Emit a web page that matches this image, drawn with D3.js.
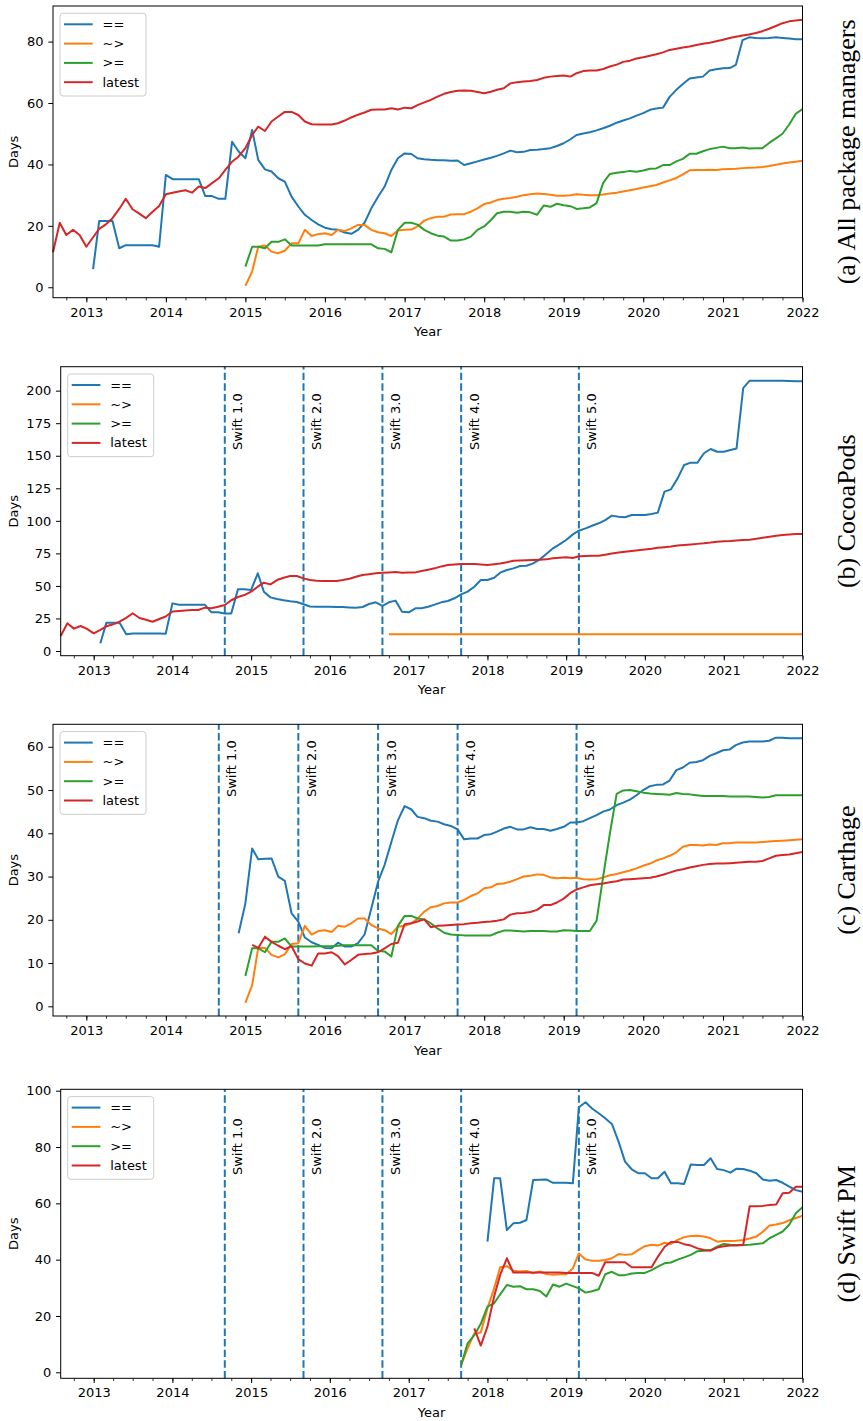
<!DOCTYPE html>
<html>
<head>
<meta charset="utf-8">
<script src="https://cdn.jsdelivr.net/npm/d3@7"></script>
<style>
  html, body { margin: 0; padding: 0; background: #fff; }
  svg { display: block; }
</style>
</head>
<body>
<svg id="chart" width="863" height="1421"></svg>
<script>
// Monthly samples, Aug 2012 .. Jan 2022
const firstMonth = '2012-08';
const lastMonth = '2022-01';

const seriesNames = ['==', '~>', '>=', 'latest'];
const seriesColors = ['#1f77b4', '#ff7f0e', '#2ca02c', '#d62728'];

// Swift releases (dashed markers)
const swiftReleases = ['2014-09', '2015-09', '2016-09', '2017-09', '2019-03'];
const swiftLabels = ['Swift 1.0', 'Swift 2.0', 'Swift 3.0', 'Swift 4.0', 'Swift 5.0'];

// (a) All package managers
const allTicks = [0, 20, 40, 60, 80];
const allEqStart = '2013-02';
const allEq = [5.9, 21.6, 21.6, 21.6,
  12.7, 13.7, 13.7, 13.7, 13.7, 13.7, 13.2, 36.6, 35.2, 35.2,
  35.2, 35.2, 35.2, 29.7, 29.7, 28.8, 28.8, 47.4, 44.2, 42,
  51.2, 41.5, 38.4, 37.7, 35.5, 34.4, 29.5, 26.3, 23.6, 21.9,
  20.5, 19.4, 18.9, 18.7, 17.8, 17.4, 18.7, 21, 25.7, 29.5,
  32.8, 38.2, 42, 43.6, 43.4, 42, 41.7, 41.5, 41.4, 41.4,
  41.2, 41.3, 39.8, 40.4, 41, 41.6, 42.2, 42.8, 43.6, 44.5,
  44, 44.1, 44.7, 44.8, 45, 45.3, 46, 46.9, 48.2, 49.6,
  50.1, 50.5, 51.1, 51.8, 52.6, 53.6, 54.3, 55, 55.9, 56.7,
  57.8, 58.2, 58.5, 62, 64.3, 66.2, 68, 68.3, 68.6, 70.6,
  71, 71.3, 71.4, 72.4, 80.5, 81.4, 81.2, 81.1, 81.2, 81.4,
  81.2, 81, 80.8, 80.8];
const allTildeStart = '2015-01';
const allTilde = [0.5,
  5.1, 13.2, 13.6, 11.6, 11.1, 11.9, 14.3, 14.3, 18.7, 16.7,
  17.3, 17.6, 17, 18.7, 18.3, 19.2, 20.3, 20.3, 18.7, 17.9,
  17.6, 16.7, 18.5, 18.7, 18.8, 19.8, 21.7, 22.5, 23, 23,
  23.7, 23.8, 23.8, 24.6, 25.7, 27.1, 27.6, 28.4, 28.8, 29.1,
  29.5, 30, 30.3, 30.5, 30.4, 30.1, 29.8, 29.8, 30, 30.3,
  30.1, 30, 30, 30.2, 30.5, 30.8, 31.2, 31.6, 32, 32.5,
  32.9, 33.3, 34.1, 34.8, 35.6, 36.8, 38.1, 38.2, 38.2, 38.3,
  38.2, 38.4, 38.5, 38.6, 38.8, 38.9, 39, 39.2, 39.5, 39.9,
  40.3, 40.6, 40.9, 41.2];
const allGeStart = '2015-01';
const allGe = [6.7,
  13.2, 13.2, 12.7, 14.8, 14.8, 15.6, 13.6, 13.6, 13.6, 13.6,
  13.6, 14, 14, 14, 14, 14, 14, 14, 14, 12.7,
  12.5, 11.4, 18.7, 21, 21, 20.4, 18.7, 17.6, 16.8, 16.5,
  15.2, 15.2, 15.6, 16.5, 18.7, 19.8, 21.9, 24.1, 24.6, 24.6,
  24.3, 24.6, 24.4, 23.6, 26.6, 26.2, 27.2, 26.7, 26.4, 25.5,
  25.7, 26, 27.4, 34, 36.9, 37.3, 37.5, 37.9, 37.6, 38,
  38.6, 38.7, 39.8, 39.8, 41, 41.8, 43.5, 43.5, 44.3, 45,
  45.4, 45.8, 45.3, 45.3, 45.5, 45.2, 45.3, 45.3, 47, 48.5,
  50, 53, 56.5, 58];
const allLatestStart = '2012-08';
const allLatest = [11.4, 21, 17, 18.7, 17, 13.2, 16.3, 19, 20.5, 22.5,
  25.5, 28.8, 25.4, 24, 22.5, 24.6, 26.5, 30.3, 30.8, 31.2,
  31.6, 30.8, 32.8, 32.3, 33.9, 35.5, 38.2, 40.9, 42.6, 45.3,
  49.6, 52.3, 50.9, 54, 55.6, 57.1, 57.1, 56.1, 54, 53.1,
  53, 53, 53, 53.4, 54.3, 55.3, 56.2, 56.9, 57.8, 57.9,
  57.9, 58.3, 57.9, 58.5, 58.3, 59.3, 60.2, 61, 62.1, 63,
  63.6, 64, 64.1, 64, 63.6, 63.2, 63.7, 64.3, 64.8, 66.4,
  66.8, 67, 67.2, 67.5, 68.2, 68.6, 68.8, 69, 68.6, 69.7,
  70.4, 70.6, 70.6, 71.1, 71.9, 72.5, 73.4, 73.8, 74.5, 74.9,
  75.4, 75.9, 76.5, 77.3, 77.7, 78.1, 78.4, 78.9, 79.3, 79.6,
  80.1, 80.6, 81.2, 81.6, 82, 82.3, 82.8, 83.4, 84.2, 85.1,
  86, 86.6, 86.9, 87.1];

// (b) CocoaPods
const cocoaTicks = [0, 25, 50, 75, 100, 125, 150, 175, 200];
const cocoaEqStart = '2013-02';
const cocoaEq = [5.9, 21.8, 21.8, 21.8,
  12.8, 13.5, 13.5, 13.5, 13.5, 13.5, 13.2, 36.6, 35.5, 35.5,
  35.5, 35.5, 35.5, 29.7, 29.7, 28.9, 28.9, 47.4, 47.4, 46.9,
  59.7, 45.6, 41.2, 40, 39, 38.3, 37.7, 35.9, 34.2, 34,
  34, 34, 33.9, 33.8, 33.5, 33.3, 33.8, 36.1, 37.4, 34.6,
  37.4, 38.7, 30.2, 29.7, 32.8, 32.8, 34, 35.6, 37.4, 38.4,
  40.5, 43.5, 45.6, 49.4, 54.5, 54.5, 56.3, 60.2, 62.2, 63.5,
  65.3, 65.5, 67.3, 70.4, 74.5, 78.9, 81.9, 85.3, 89.6, 92.4,
  94.2, 96.2, 98.1, 100.6, 104, 103.2, 102.7, 104.5, 104.5, 104.5,
  105.2, 106.3, 122.4, 124.2, 132.6, 142.9, 144.7, 144.7, 151.9, 155.2,
  153.1, 153.1, 154.4, 155.5, 202, 207.7, 207.7, 207.7, 207.7, 207.7,
  207.6, 207.5, 207.3, 207.2];
const cocoaTildeStart = '2016-10';
const cocoaTilde = [12.8, 12.8, 12.8, 12.8, 12.8, 12.8, 12.8, 12.8, 12.8, 12.8,
  12.8, 12.8, 12.8, 12.8, 12.8, 12.8, 12.8, 12.8, 12.8, 12.8,
  12.8, 12.8, 12.8, 12.8, 12.8, 12.8, 12.8, 12.8, 12.8, 12.8,
  12.8, 12.8, 12.8, 12.8, 12.8, 12.8, 12.8, 12.8, 12.8, 12.8,
  12.8, 12.8, 12.8, 12.8, 12.8, 12.8, 12.8, 12.8, 12.8, 12.8,
  12.8, 12.8, 12.8, 12.8, 12.8, 12.8, 12.8, 12.8, 12.8, 12.8,
  12.8, 12.8, 12.8, 12.8];
const cocoaGeStart = '2012-08';
const cocoaGe = [];
const cocoaLatestStart = '2012-08';
const cocoaLatest = [11.5, 21.3, 17.2, 19.2, 17, 13.6, 16.3, 19, 20.5, 22.5,
  25.5, 29, 25.4, 24, 22.5, 24.6, 26.5, 30.3, 30.8, 31.2,
  31.5, 31.5, 33.3, 32.8, 34, 35.3, 39, 41.5, 43, 45.6,
  49.4, 52.5, 51.2, 54.5, 56.3, 57.6, 57.6, 55.8, 54.5, 54,
  53.8, 53.8, 53.8, 54.5, 55.5, 57, 58.4, 59, 59.7, 60.2,
  60.4, 60.7, 60.2, 60.3, 60.4, 61.5, 62.5, 63.5, 65, 66,
  66.5, 66.8, 66.8, 66.8, 66.5, 66, 66.7, 67.3, 68.2, 69.4,
  69.6, 69.8, 69.9, 70.1, 70.4, 71.2, 71.6, 72, 71.4, 72.8,
  73, 73.1, 73.2, 74, 74.9, 75.6, 76.2, 76.8, 77.4, 78,
  78.6, 79.3, 79.8, 80.3, 81, 81.5, 81.9, 82.3, 82.7, 83.3,
  84, 84.4, 84.6, 84.9, 85.2, 85.5, 86.2, 87, 87.7, 88.5,
  89.1, 89.5, 89.8, 89.9];

// (c) Carthage
const carthTicks = [0, 10, 20, 30, 40, 50, 60];
const carthEqStart = '2014-12';
const carthEq = [16.9, 23.8,
  36.5, 34, 34.1, 34.2, 30, 29, 21.5, 19.6, 15.9, 14.8,
  14.2, 13.5, 13.4, 14.7, 13.8, 13.8, 14.6, 16.6, 22.6, 28.8,
  32.7, 38, 43, 46.3, 45.5, 43.8, 43.5, 42.9, 42.7, 42.1,
  41.7, 40.9, 38.6, 38.8, 38.8, 39.6, 39.8, 40.4, 41.1, 41.5,
  40.9, 40.9, 41.4, 41, 41, 40.6, 41, 41.5, 42.5, 42.5,
  42.8, 43.5, 44.2, 45, 45.5, 46.5, 47.1, 47.8, 48.8, 50,
  50.9, 51.2, 51.3, 52.2, 54.6, 55.2, 56.3, 56.5, 56.9, 57.9,
  58.5, 59.2, 59.4, 60.4, 61, 61.2, 61.2, 61.2, 61.4, 62.1,
  62.1, 62, 62, 62];
const carthTildeStart = '2015-01';
const carthTilde = [0.8,
  4.9, 13.5, 13.5, 11.9, 11.3, 12, 14.4, 14.6, 18.6, 16.6,
  17.4, 17.6, 17.2, 18.6, 18.4, 19.2, 20.3, 20.3, 18.8, 18,
  17.6, 16.7, 18.4, 18.6, 19.2, 20.2, 21.9, 22.9, 23.2, 23.8,
  24, 24, 24.6, 25.5, 26.1, 27.3, 27.5, 28.3, 28.4, 28.8,
  29.4, 30, 30.2, 30.5, 30.4, 29.8, 29.6, 29.7, 29.6, 29.7,
  29.4, 29.3, 29.4, 29.8, 30.3, 30.6, 31, 31.4, 31.9, 32.5,
  33, 33.7, 34.2, 34.8, 35.6, 36.9, 37.3, 37.3, 37.2, 37.4,
  37.3, 37.7, 37.7, 37.9, 37.9, 37.9, 37.9, 38, 38.1, 38.2,
  38.3, 38.4, 38.5, 38.6];
const carthGeStart = '2015-01';
const carthGe = [7,
  13.4, 13.4, 12.5, 14.9, 14.9, 15.7, 13.8, 13.8, 13.8, 13.8,
  13.9, 13.9, 13.9, 14, 14.1, 14.1, 14.1, 14.1, 14.1, 12.8,
  12.7, 11.5, 18.6, 20.9, 20.9, 20.3, 20.1, 19.2, 18, 17,
  16.6, 16.5, 16.4, 16.4, 16.4, 16.4, 16.4, 17, 17.5, 17.5,
  17.4, 17.3, 17.4, 17.4, 17.4, 17.3, 17.3, 17.6, 17.5, 17.4,
  17.4, 17.4, 19.8, 30, 40, 49.1, 49.9, 50, 49.7, 49.4,
  49.2, 49.1, 49, 48.9, 49.3, 49.1, 49, 48.8, 48.6, 48.6,
  48.6, 48.6, 48.5, 48.5, 48.5, 48.5, 48.4, 48.3, 48.4, 48.8,
  48.8, 48.8, 48.8, 48.8];
const carthLatestStart = '2015-02';
const carthLatest = [14.2, 13.5, 16.1, 14.9, 14, 13.2, 13.9, 10.9, 9.9, 9.4,
  12.2, 12.2, 12.5, 11.6, 9.7, 10.7, 11.9, 12.1, 12.2, 12.5,
  13.4, 14.4, 14.7, 19, 19.2, 19.6, 20.1, 18.3, 18.6, 18.7,
  18.8, 18.9, 19, 19.2, 19.3, 19.5, 19.6, 19.8, 20.1, 21.2,
  21.5, 21.6, 21.8, 22.3, 23.4, 23.4, 24, 24.9, 26.2, 27,
  27.5, 28, 28.2, 28.4, 28.7, 28.9, 29.3, 29.4, 29.5, 29.6,
  29.7, 30, 30.4, 30.9, 31.4, 31.7, 32.1, 32.4, 32.7, 32.9,
  33, 33, 33.1, 33.2, 33.3, 33.4, 33.4, 33.6, 34.2, 34.8,
  35, 35.1, 35.4, 35.7];

// (d) Swift PM
const spmTicks = [0, 20, 40, 60, 80, 100];
const spmEqStart = '2018-01';
const spmEq = [46.4, 68.9, 68.9, 50.5, 52.9,
  53.1, 54.1, 68.3, 68.4, 68.5, 67.3, 67.3, 67.3, 67.1, 94.1,
  95.9, 93.7, 92, 90.2, 88.2, 81.9, 74.8, 72.1, 70.7, 70.7,
  68.9, 68.9, 71.2, 67.1, 67.1, 66.9, 73.8, 73.6, 73.6, 76,
  72.2, 71.8, 70.9, 72.3, 72.2, 71.6, 70.7, 68.5, 68, 68.3,
  67.3, 65.9, 64.7, 64.1];
const spmTildeStart = '2017-09';
const spmTilde = [2.6, 8.5, 13.8, 14.1, 22.7, 29.8, 37.3, 37.7, 36.1,
  35.8, 36, 35.2, 35.8, 34.9, 34.6, 34.8, 34.8, 36.9, 42.2,
  40.1, 39.6, 39.6, 39.9, 40.5, 42, 41.7, 41.9, 43.4, 44.8,
  45.3, 45, 46, 45.6, 47, 48, 48.4, 48.5, 48.2, 47.6,
  46.4, 46.6, 46.6, 46.7, 47, 47.5, 48.2, 49.9, 52.1, 52.5,
  53, 54, 54.8, 55.6];
const spmGeStart = '2017-09';
const spmGe = [2.6, 10.3, 13.2, 17.2, 23.3, 24.5, 27.7, 31, 30.4,
  30.6, 29.5, 29.5, 28.9, 26.9, 31.2, 30.4, 31.5, 30.6, 29.8,
  28.3, 28.8, 29.5, 34.8, 35.7, 34.5, 34.5, 35.1, 35.3, 35.3,
  36.3, 37.5, 38.7, 39, 40, 40.8, 41.7, 43, 43.2, 43.4,
  44.6, 45.6, 45.3, 45.2, 45.2, 45.3, 45.6, 45.8, 47.6, 48.8,
  50, 52.5, 56.5, 58.6];
const spmLatestStart = '2017-11';
const spmLatest = [15.6, 9.5, 16.2, 26.9, 34.6, 40.5, 35.4,
  35.4, 35.4, 35.4, 35.4, 35.4, 35.4, 35.4, 35.3, 35.3, 35.3,
  35.3, 35.3, 34.3, 39.1, 39.1, 39.1, 39.1, 37.3, 37.3, 37.3,
  37.3, 41, 44.5, 46.3, 46.3, 45.5, 45, 44, 43.4, 43.2,
  44.3, 44.8, 45, 45, 45.2, 59, 59, 59.1, 59.4, 59.6,
  63.6, 63.8, 65.9, 65.9];

// Panel layout (pixels), axis limits and series wiring
const plotRight = 802.5;
const panels = [
    {
        label: '(a) All package managers', left: 53, top: 6, bottom: 297.7,
        yDomain: [-3.4, 91.6], yTicks: allTicks, swiftTop: null,
        series: [[allEqStart, allEq], [allTildeStart, allTilde], [allGeStart, allGe], [allLatestStart, allLatest]]
    },
    {
        label: '(b) CocoaPods', left: 60.7, top: 366.7, bottom: 655.7,
        yDomain: [-3.6, 218.4], yTicks: cocoaTicks, swiftTop: 198,
        series: [[cocoaEqStart, cocoaEq], [cocoaTildeStart, cocoaTilde], [cocoaGeStart, cocoaGe], [cocoaLatestStart, cocoaLatest]]
    },
    {
        label: '(c) Carthage', left: 53, top: 724.3, bottom: 1016,
        yDomain: [-2.24, 65.2], yTicks: carthTicks, swiftTop: 61.5,
        series: [[carthEqStart, carthEq], [carthTildeStart, carthTilde], [carthGeStart, carthGe], [carthLatestStart, carthLatest]]
    },
    {
        label: '(d) Swift PM', left: 60.7, top: 1089.3, bottom: 1378.3,
        yDomain: [-2.13, 100.5], yTicks: spmTicks, swiftTop: 90.2,
        series: [[spmEqStart, spmEq], [spmTildeStart, spmTilde], [spmGeStart, spmGe], [spmLatestStart, spmLatest]]
    }
];

const parseMonth = d3.timeParse('%Y-%m');
const sansFont = "'DejaVu Sans', sans-serif";
const svg = d3.select('#chart');

/**
 * Turn a start month plus monthly values into dated points
 */
function toPoints(start, values) {
    const t0 = parseMonth(start);
    return values.map((v, i) => ({ date: d3.timeMonth.offset(t0, i), value: v }));
}

/**
 * Draw one subplot
 */
function drawPanel(p) {
    const x = d3.scaleTime()
        .domain([parseMonth(firstMonth), parseMonth(lastMonth)])
        .range([p.left, plotRight]);
    const y = d3.scaleLinear().domain(p.yDomain).range([p.bottom, p.top]);

    const g = svg.append('g');

    // Swift release markers
    if (p.swiftTop !== null) {
        swiftReleases.forEach((s, i) => {
            const xv = x(parseMonth(s));
            g.append('line')
                .attr('x1', xv).attr('x2', xv)
                .attr('y1', p.bottom).attr('y2', p.top)
                .attr('stroke', '#1f77b4')
                .attr('stroke-width', 2)
                .attr('stroke-dasharray', '7.4,3.2');
            g.append('text')
                .attr('transform', `translate(${xv + 17.5},${y(p.swiftTop)}) rotate(-90)`)
                .attr('text-anchor', 'end')
                .attr('font-family', sansFont)
                .attr('font-size', 13)
                .attr('fill', '#000')
                .text(swiftLabels[i]);
        });
    }

    // Series lines
    const line = d3.line()
        .x(d => x(d.date))
        .y(d => y(d.value));

    p.series.forEach(([start, values], i) => {
        if (values.length === 0) return;
        g.append('path')
            .datum(toPoints(start, values))
            .attr('d', line)
            .attr('fill', 'none')
            .attr('stroke', seriesColors[i])
            .attr('stroke-width', 2)
            .attr('stroke-linejoin', 'round');
    });

    // Axes
    const yAxis = g.append('g')
        .attr('transform', `translate(${p.left},0)`)
        .call(d3.axisLeft(y).tickValues(p.yTicks).tickSize(4.7).tickPadding(4.8).tickSizeOuter(0));
    yAxis.select('.domain').remove();

    const xAxis = g.append('g')
        .attr('transform', `translate(0,${p.bottom})`)
        .call(d3.axisBottom(x)
            .ticks(d3.timeYear.every(1))
            .tickFormat(d3.timeFormat('%Y'))
            .tickSize(4.7).tickPadding(5).tickSizeOuter(0));
    xAxis.select('.domain').remove();

    const xMinor = g.append('g')
        .attr('transform', `translate(0,${p.bottom})`)
        .call(d3.axisBottom(x).ticks(d3.timeMonth.every(3)).tickFormat('').tickSize(2.7).tickSizeOuter(0));
    xMinor.select('.domain').remove();
    xMinor.selectAll('line').attr('stroke-width', 0.8);

    [yAxis, xAxis].forEach(a => {
        a.attr('font-size', 13).attr('font-family', sansFont);
        a.selectAll('text').attr('fill', '#000');
        a.selectAll('line').attr('stroke', '#000').attr('stroke-width', 1);
    });
    xMinor.selectAll('line').attr('stroke', '#000');

    // Frame
    g.append('rect')
        .attr('x', p.left).attr('y', p.top)
        .attr('width', plotRight - p.left).attr('height', p.bottom - p.top)
        .attr('fill', 'none')
        .attr('stroke', '#000')
        .attr('stroke-width', 1);

    // Legend
    const lg = g.append('g').attr('transform', `translate(${p.left + 7},${p.top + 7.3})`);
    lg.append('rect')
        .attr('width', 86).attr('height', 82.7)
        .attr('rx', 3)
        .attr('fill', 'rgba(255,255,255,0.8)')
        .attr('stroke', '#cccccc');
    seriesNames.forEach((name, i) => {
        const cy = 11 + i * 19.3;
        lg.append('line')
            .attr('x1', 4).attr('x2', 32.7)
            .attr('y1', cy).attr('y2', cy)
            .attr('stroke', seriesColors[i])
            .attr('stroke-width', 2);
        lg.append('text')
            .attr('x', 42.5).attr('y', cy).attr('dy', '0.35em')
            .attr('font-family', sansFont)
            .attr('font-size', 13)
            .attr('fill', '#000')
            .text(name);
    });

    // Axis titles
    const midY = (p.top + p.bottom) / 2;
    g.append('text')
        .attr('transform', `translate(18,${midY}) rotate(-90)`)
        .attr('text-anchor', 'middle')
        .attr('font-family', sansFont)
        .attr('font-size', 13)
        .text('Days');
    g.append('text')
        .attr('x', (p.left + plotRight) / 2)
        .attr('y', p.bottom + 38.7)
        .attr('text-anchor', 'middle')
        .attr('font-family', sansFont)
        .attr('font-size', 13)
        .text('Year');

    // Subfigure caption on the right
    g.append('text')
        .attr('transform', `translate(855,${midY}) rotate(-90)`)
        .attr('text-anchor', 'middle')
        .attr('font-family', "'Liberation Serif', serif")
        .attr('font-size', 26)
        .attr('fill', '#000')
        .text(p.label);
}

panels.forEach(drawPanel);
</script>
</body>
</html>
